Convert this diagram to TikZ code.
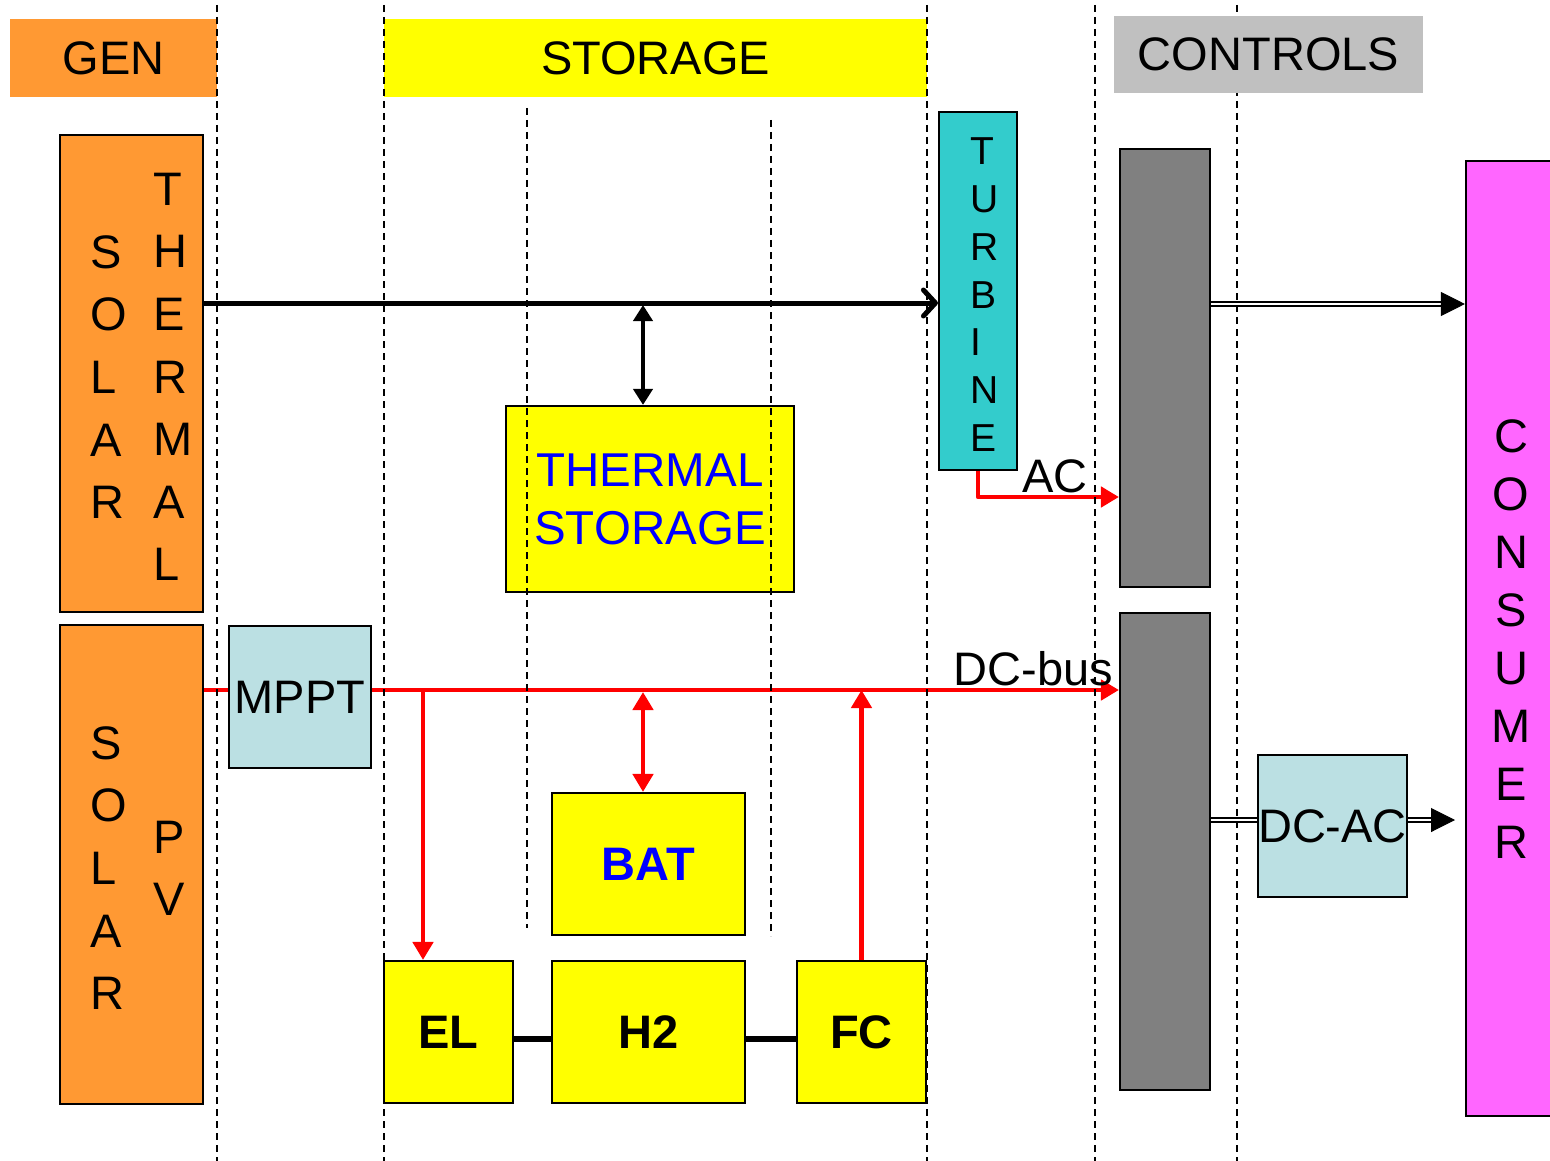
\documentclass[tikz,border=0pt]{standalone}
\usepackage{fontspec}
\setmainfont{Liberation Sans}
\usetikzlibrary{arrows.meta,calc}
\definecolor{genor}{HTML}{FF9933}
\definecolor{ctlgray}{HTML}{C0C0C0}
\definecolor{teal2}{HTML}{33CCCC}
\definecolor{ltblue}{HTML}{BBE0E3}
\definecolor{dkgray}{HTML}{808080}
\definecolor{magen}{HTML}{FF66FF}
\definecolor{yel}{HTML}{FFFF00}
\begin{document}
\begin{tikzpicture}[x=1pt,y=-1pt,
 box/.style={draw=black,line width=2.1pt,inner sep=0pt,font=\fontsize{47}{56}\selectfont},
 hdr/.style={inner sep=0pt,font=\fontsize{47}{56}\selectfont},
 col/.style={inner sep=0pt,align=left,font=\fontsize{47}{62.6}\selectfont},
 tcol/.style={inner sep=0pt,align=left,font=\fontsize{39}{47.75}\selectfont},
 ccol/.style={inner sep=0pt,align=center,font=\fontsize{47}{58}\selectfont},
 vdash/.style={draw=black,line width=1.9pt,dash pattern=on 7pt off 5pt},
 blkline/.style={draw=black,line width=5pt},
 redline/.style={draw=red,line width=4.6pt,line join=round},
 rtip/.style={-{Triangle[length=18pt,width=20pt]}},
 rtips/.style={{Triangle[length=18pt,width=20pt]}-{Triangle[length=18pt,width=20pt]}},
 dbl/.style={draw=black,line width=1.9pt,double=white,double distance=2.6pt},
 dtip/.style={draw=black,line width=1pt,-{Triangle[length=24pt,width=24pt]}},
 lbl/.style={inner sep=0pt,font=\fontsize{47}{56}\selectfont}
]
\useasboundingbox (0,0) rectangle (1550,1161);

% headers
\node[hdr,fill=genor,minimum width=207pt,minimum height=78pt] (gen) at (113.5,58) {GEN};
\node[hdr,fill=yel,minimum width=543pt,minimum height=78pt] (stor) at (655.5,58) {STORAGE};

% boxes
\node[box,fill=genor,minimum width=143pt,minimum height=477pt] (st) at (131.5,373.5) {};
\node[box,fill=genor,minimum width=143pt,minimum height=479pt] (pv) at (131.5,864.5) {};
\node[box,fill=ltblue,minimum width=142pt,minimum height=142pt] (mppt) at (300,697) {MPPT};
\node[box,fill=teal2,minimum width=78pt,minimum height=358pt] (tb) at (978,291) {};
\node[box,fill=yel,minimum width=288pt,minimum height=186pt,align=center,text=blue,font=\fontsize{47.5}{58}\selectfont] (ts) at (650,499) {THERMAL\\STORAGE};
\node[box,fill=yel,minimum width=193pt,minimum height=142pt,text=blue,font=\fontsize{47}{56}\selectfont\bfseries] (bat) at (648.5,864) {BAT};
\node[box,fill=yel,minimum width=129pt,minimum height=142pt,font=\fontsize{47}{56}\selectfont\bfseries] (el) at (448.5,1032) {EL};
\node[box,fill=yel,minimum width=193pt,minimum height=142pt,font=\fontsize{47}{56}\selectfont\bfseries] (h2) at (648.5,1032) {H2};
\node[box,fill=yel,minimum width=129pt,minimum height=142pt,font=\fontsize{47}{56}\selectfont\bfseries] (fc) at (861.5,1032) {FC};
\node[box,fill=dkgray,minimum width=90pt,minimum height=438pt] (g1) at (1165,368) {};
\node[box,fill=dkgray,minimum width=90pt,minimum height=477pt] (g2) at (1165,851.5) {};
\node[box,fill=ltblue,minimum width=143pt,minimum height=142pt] (dca) at (1332.5,826) {DC-AC};
\node[box,fill=magen,minimum width=90pt,minimum height=955pt] (cons) at (1511,638.5) {};

% stacked letters
\node[col,anchor=west] (stsolar) at (90,377) {S\\O\\L\\A\\R};
\node[col,anchor=west] (stthermal) at (153,377) {T\\H\\E\\R\\M\\A\\L};
\node[col,anchor=west] (pvsolar) at (90,868) {S\\O\\L\\A\\R};
\node[col,anchor=west] (pvpv) at (153.5,868.5) {P\\V};
\node[tcol,anchor=west] (tbtxt) at (970,294.75) {T\\U\\R\\B\\I\\N\\E};
\node[ccol] (constxt) at (1511,639) {C\\O\\N\\S\\U\\M\\E\\R};

% coordinates
\coordinate (yTH) at (0,303);
\coordinate (yDC) at (0,690);
\coordinate (yAC) at (0,497);
\coordinate (yH) at (0,1039);
\coordinate (vTh) at (643,305);
\coordinate (vBat) at (643,692);
\coordinate (vEl) at (423,690);
\coordinate (yC1) at (0,304);
\coordinate (yC2) at (0,820);
\coordinate (c2end) at (1455,820);

% connectors
\draw[blkline,-{Straight Barb[length=12pt,width=26pt,round]}] (st.east |- yTH) -- (tb.west |- yTH);
\draw[black,line width=4.5pt,{Triangle[length=16pt,width=19pt]}-{Triangle[length=16pt,width=19pt]}] (vTh) -- (vTh |- ts.north);
\draw[redline] (pv.east |- yDC) -- (mppt.west |- yDC);
\draw[redline,rtip] (mppt.east |- yDC) -- (g2.west |- yDC);
\draw[redline,rtip] (vEl) -- (vEl |- el.north);
\draw[redline,rtips] (vBat) -- (vBat |- bat.north);
\draw[redline,rtip] (fc.north) -- (fc.north |- yDC);
\draw[redline,rtip] (tb.south) -- (tb.south |- yAC) -- (g1.west |- yAC);
\draw[black,line width=6pt] (el.east |- yH) -- (h2.west |- yH);
\draw[black,line width=6pt] (h2.east |- yH) -- (fc.west |- yH);
\draw[dbl,shorten >=20pt] (g1.east |- yC1) -- (cons.west |- yC1);
\draw[dtip] ($(cons.west |- yC1)+(-24,0)$) -- (cons.west |- yC1);
\draw[dbl] (g2.east |- yC2) -- (dca.west |- yC2);
\draw[dbl,shorten >=20pt] (dca.east |- yC2) -- (c2end);
\draw[dtip] ($(c2end)+(-24,0)$) -- (c2end);

% labels
\node[lbl,anchor=base west] (aclbl) at (1022,492) {AC};
\node[lbl,anchor=base east] (dclbl) at (1113,685) {DC-bus};

% dashed lane separators
\foreach \x in {217,384,927,1095,1237} \draw[vdash] (\x,5) -- (\x,1161);
\draw[vdash] (527,108) -- (527,928);
\draw[vdash] (771,120) -- (771,936);

% controls header on top
\node[hdr,fill=ctlgray,minimum width=309pt,minimum height=77pt] (ctl) at (1268.5,54.5) {CONTROLS};
\end{tikzpicture}
\end{document}
